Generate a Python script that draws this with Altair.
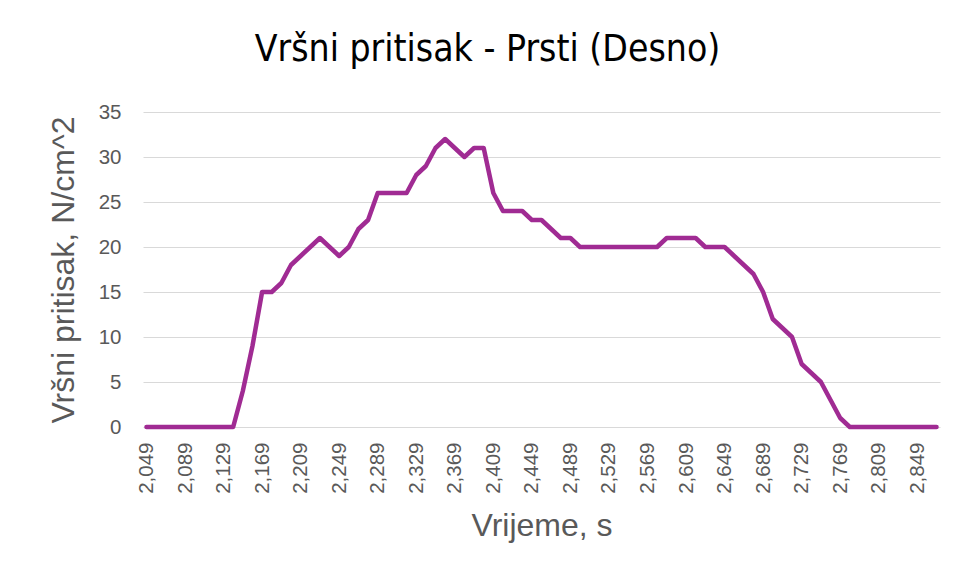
import altair as alt
import pandas as pd

TITLE = "Vršni pritisak - Prsti (Desno)"
X_TITLE = "Vrijeme, s"
Y_TITLE = "Vršni pritisak, N/cm^2"

TIMES = [
    "2,049", "2,059", "2,069", "2,079", "2,089", "2,099", "2,109", "2,119", "2,129", "2,139",
    "2,149", "2,159", "2,169", "2,179", "2,189", "2,199", "2,209", "2,219", "2,229", "2,239",
    "2,249", "2,259", "2,269", "2,279", "2,289", "2,299", "2,309", "2,319", "2,329", "2,339",
    "2,349", "2,359", "2,369", "2,379", "2,389", "2,399", "2,409", "2,419", "2,429", "2,439",
    "2,449", "2,459", "2,469", "2,479", "2,489", "2,499", "2,509", "2,519", "2,529", "2,539",
    "2,549", "2,559", "2,569", "2,579", "2,589", "2,599", "2,609", "2,619", "2,629", "2,639",
    "2,649", "2,659", "2,669", "2,679", "2,689", "2,699", "2,709", "2,719", "2,729", "2,739",
    "2,749", "2,759", "2,769", "2,779", "2,789", "2,799", "2,809", "2,819", "2,829", "2,839",
    "2,849", "2,859", "2,869",
]

PRESSURE = [
    0, 0, 0, 0, 0, 0, 0, 0, 0, 0,
    4, 9, 15, 15, 16, 18, 19, 20, 21, 20,
    19, 20, 22, 23, 26, 26, 26, 26, 28, 29,
    31, 32, 31, 30, 31, 31, 26, 24, 24, 24,
    23, 23, 22, 21, 21, 20, 20, 20, 20, 20,
    20, 20, 20, 20, 21, 21, 21, 21, 20, 20,
    20, 19, 18, 17, 15, 12, 11, 10, 7, 6,
    5, 3, 1, 0, 0, 0, 0, 0, 0, 0,
    0, 0, 0,
]

TICK_LABELS = [
    "2,049", "2,089", "2,129", "2,169", "2,209", "2,249", "2,289", "2,329", "2,369", "2,409",
    "2,449", "2,489", "2,529", "2,569", "2,609", "2,649", "2,689", "2,729", "2,769", "2,809",
    "2,849",
]

Y_TICKS = [0, 5, 10, 15, 20, 25, 30, 35]

df = pd.DataFrame({"t": TIMES, "p": PRESSURE})

LABEL_FONT = "Liberation Sans"
GREY = "#595959"

chart = (
    alt.Chart(df)
    .mark_line(color="#A02B93", strokeWidth=4.5, strokeJoin="round", strokeCap="round")
    .encode(
        x=alt.X(
            "t:O",
            sort=None,
            scale=alt.Scale(type="point", padding=0.36),
            axis=alt.Axis(
                title=X_TITLE,
                values=TICK_LABELS,
                labelAngle=270,
                labelFont=LABEL_FONT,
                labelFontSize=20.5,
                labelColor=GREY,
                labelPadding=15,
                ticks=False,
                domain=False,
                grid=False,
                titleFont=LABEL_FONT,
                titleFontSize=32,
                titleFontWeight="normal",
                titleColor=GREY,
                titlePadding=17,
            ),
        ),
        y=alt.Y(
            "p:Q",
            scale=alt.Scale(domain=[0, 35], nice=False),
            axis=alt.Axis(
                title=Y_TITLE,
                values=Y_TICKS,
                labelFont=LABEL_FONT,
                labelFontSize=20.5,
                labelColor=GREY,
                labelPadding=22,
                ticks=False,
                domain=False,
                grid=True,
                gridColor="#d9d9d9",
                gridWidth=1,
                titleFont=LABEL_FONT,
                titleFontSize=32,
                titleFontWeight="normal",
                titleColor=GREY,
                titlePadding=18,
            ),
        ),
    )
    .properties(
        width=797,
        height=315,
        title=alt.TitleParams(
            text=TITLE,
            font="Liberation Sans Narrow, DejaVu Sans Condensed, Roboto, sans-serif",
            fontSize=37,
            fontWeight="normal",
            color="#000000",
            anchor="middle",
            dx=-54,
            offset=33,
        ),
        autosize=alt.AutoSizeParams(type="none"),
        padding={"left": 135, "top": 104, "right": 9, "bottom": 142},
        background="#ffffff",
    )
    .configure_view(stroke=None)
)

chart.save("out.html", embed_options={"renderer": "svg", "actions": False})
